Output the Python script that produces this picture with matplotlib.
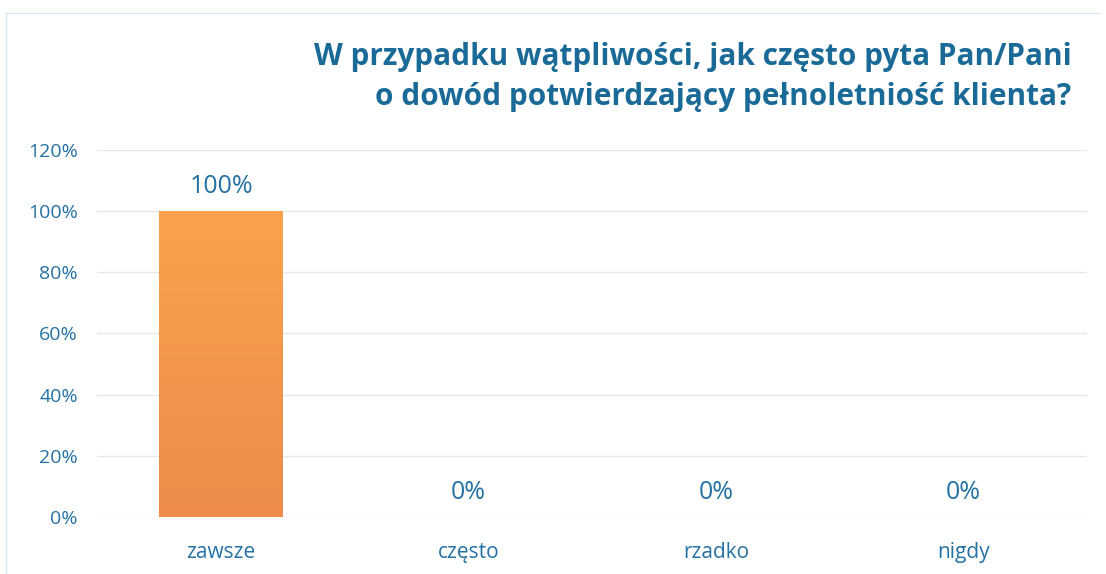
import matplotlib
matplotlib.use("Agg")
import matplotlib.pyplot as plt
import numpy as np
from matplotlib.colors import LinearSegmentedColormap

categories = ["zawsze", "często", "rzadko", "nigdy"]
values = [100, 0, 0, 0]
yticks = [0, 20, 40, 60, 80, 100, 120]
title_lines = ["W przypadku wątpliwości, jak często pyta Pan/Pani",
               "o dowód potwierdzający pełnoletniość klienta?"]

plt.rcParams['font.family'] = ['Open Sans', 'DejaVu Sans']
BLUE = "#2472A4"
TITLE_BLUE = "#1A6A98"

fig = plt.figure(figsize=(11.06, 5.74), dpi=100)
ax = fig.add_axes([0.088, 0.0993, 0.895, 0.6394])

x = np.arange(len(categories))
bars = ax.bar(x, values, width=0.5, color="#F39A4C", zorder=2)

grad = np.linspace(0, 1, 256).reshape(-1, 1)
cmap = LinearSegmentedColormap.from_list("o", ["#EE8B4C", "#F9A24A"])
for b in bars:
    if b.get_height() > 0:
        im = ax.imshow(grad, cmap=cmap, aspect="auto", origin="lower",
                       extent=[b.get_x(), b.get_x() + b.get_width(), 0, b.get_height()],
                       zorder=3)
        im.set_clip_path(b)

ax.set_xlim(-0.5, len(categories) - 0.5)
ax.set_ylim(0, 120)
ax.set_yticks(yticks)
ax.set_yticklabels([f"{t}%" for t in yticks], color=BLUE, fontsize=14)
ax.set_xticks(x)
ax.set_xticklabels(categories, color=BLUE, fontsize=15)
ax.tick_params(axis="both", length=0)
ax.tick_params(axis="y", pad=14)
ax.tick_params(axis="x", pad=18)
ax.yaxis.grid(True, color="#E8E8E8", linewidth=1, zorder=0)
ax.set_axisbelow(True)
for s in ax.spines.values():
    s.set_visible(False)

for xi, v in zip(x, values):
    ax.text(xi, v + 4.0, f"{v}%", ha="center", va="bottom", color=BLUE, fontsize=18)

fig.text(0.969, 0.90, title_lines[0], ha="right", va="center",
         color=TITLE_BLUE, fontsize=21.4, fontweight="bold")
fig.text(0.969, 0.831, title_lines[1], ha="right", va="center",
         color=TITLE_BLUE, fontsize=21.4, fontweight="bold")

fig.add_artist(plt.Line2D([0.005, 0.995], [0.978, 0.978], color="#D6E8F0", lw=1))
fig.add_artist(plt.Line2D([0.005, 0.005], [0.0, 0.978], color="#D6E8F0", lw=1))

fig.savefig("out.png", dpi=100)
